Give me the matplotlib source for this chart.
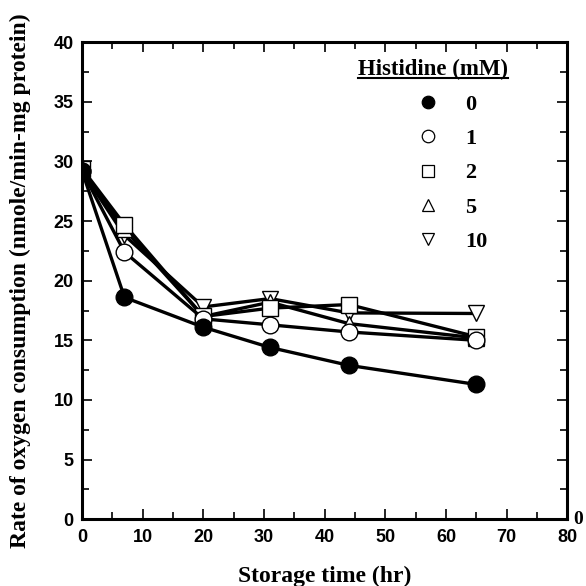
import numpy as np
import matplotlib.pyplot as plt
from matplotlib.lines import Line2D
from matplotlib.ticker import MultipleLocator

# storage time (hr)
hours = [0, 7, 20, 31, 44, 65]
# oxygen consumption for each histidine level (mM)
his_0 = [29.2, 18.6, 16.1, 14.4, 12.9, 11.3]
his_1 = [29.2, 22.4, 16.8, 16.3, 15.7, 15.0]
his_2 = [29.4, 24.7, 17.0, 17.7, 18.0, 15.3]
his_5 = [29.2, 24.3, 17.0, 18.2, 16.4, 15.2]
his_10 = [29.2, 23.8, 17.8, 18.5, 17.3, 17.25]
levels = ['0', '1', '2', '5', '10']

serif = ['Liberation Serif', 'DejaVu Serif']
sans = ['Liberation Sans', 'DejaVu Sans']

fig = plt.figure(figsize=(5.86, 5.86), dpi=100)
ax = fig.add_axes([0.140, 0.114, 0.828, 0.814])

series = [his_0, his_1, his_2, his_5, his_10]
markers = ['o', 'o', 's', '^', 'v']
faces = ['black', 'white', 'white', 'white', 'white']
# draw in reverse so the filled circles sit on top
for vals, m, fc in reversed(list(zip(series, markers, faces))):
    ax.plot(hours, vals, color='black', lw=2.4, marker=m, ms=12 if m != 's' else 11,
            mfc=fc, mec='black', mew=1.0)

ax.set_xlim(0, 80)
ax.set_ylim(0, 40)
ax.set_xticks([0, 10, 20, 30, 40, 50, 60, 70, 80])
ax.xaxis.set_minor_locator(MultipleLocator(5))
ax.yaxis.set_major_locator(MultipleLocator(5))
ax.yaxis.set_minor_locator(MultipleLocator(2.5))
ax.tick_params(which='both', direction='in', top=True, right=True, width=1.2)
ax.tick_params(which='major', length=7, pad=6, labelsize=13)
ax.tick_params(which='minor', length=5)
ax.tick_params(axis='x', pad=7)
for lab in ax.get_xticklabels() + ax.get_yticklabels():
    lab.set_family(sans)
    lab.set_fontweight('bold')
for s in ax.spines.values():
    s.set_linewidth(2.2)

ax.set_xlabel('Storage time (hr)', family=serif, fontweight='bold', fontsize=17, labelpad=14)
ax.set_ylabel('Rate of oxygen consumption (nmole/min-mg protein)', family=serif,
              fontweight='bold', fontsize=17, labelpad=16)
ax.text(1.012, 0.0, '0', transform=ax.transAxes, family=serif, fontweight='bold',
        fontsize=14, ha='left', va='center')

# legend
handles = [Line2D([], [], ls='none', marker=m, ms=9 if m != 's' else 8.5, mfc=fc,
                  mec='black', mew=0.9) for m, fc in zip(markers, faces)]
leg = ax.legend(handles, levels, loc='upper left', bbox_to_anchor=(0.648, 0.933),
                frameon=False, handlelength=1.0, handletextpad=1.2, labelspacing=0.62,
                prop={'family': serif, 'weight': 'bold', 'size': 16})
title = ax.text(0.724, 0.943, 'Histidine (mM)', transform=ax.transAxes, family=serif,
                fontweight='bold', fontsize=16.5, ha='center', va='center')
fig.canvas.draw()
bb = title.get_window_extent().transformed(ax.transAxes.inverted())
ax.plot([bb.x0, bb.x1], [bb.y0 + 0.004, bb.y0 + 0.004], transform=ax.transAxes,
        color='black', lw=1.5, clip_on=False)

fig.savefig('out.png', dpi=100)
